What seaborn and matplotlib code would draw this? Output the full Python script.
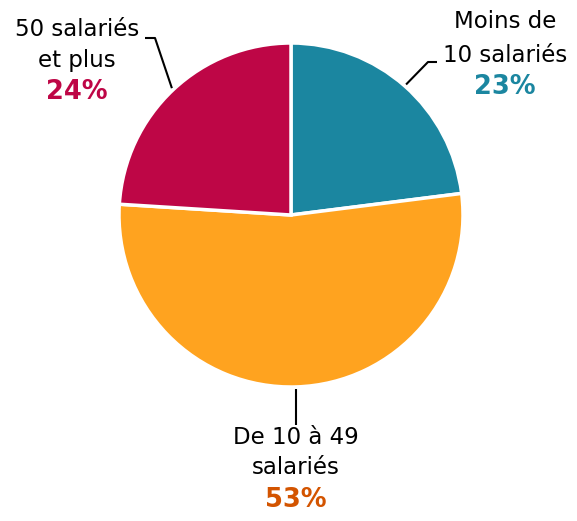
import numpy as np
import matplotlib
matplotlib.use("Agg")
import matplotlib.pyplot as plt
import seaborn as sns

# Data
categories = ["Moins de\n10 salariés", "De 10 à 49\nsalariés", "50 salariés\net plus"]
shares = [23, 53, 24]
wedge_colors = ["#1B86A0", "#FFA31F", "#BE0646"]
pct_colors = ["#1B86A0", "#D35400", "#BE0646"]

sns.set_theme(style="white")
plt.rcParams['font.family'] = ['DejaVu Sans']

W, H = 577, 521
fig = plt.figure(figsize=(W / 100, H / 100), dpi=100)
ax = fig.add_axes([0, 0, 1, 1])

cx, cy, r = 291, H - 215, 172
wedges, _ = ax.pie(shares, colors=wedge_colors, startangle=90, counterclock=False,
                   center=(cx, cy), radius=r,
                   wedgeprops=dict(edgecolor="white", linewidth=2.5))

ax.set_xlim(0, W)
ax.set_ylim(0, H)
ax.set_aspect("equal")
ax.axis("off")

# label placement (pixel coords from top) : elbow, end of leader, text centre
layout = [
    dict(elbow=(428, 62), end=(437, 62), tx=505, ty=[22, 56, 87]),
    dict(elbow=(None, 425), end=None, tx=296, ty=[437, 468, 500]),
    dict(elbow=(155, 38), end=(145, 38), tx=77, ty=[29, 60, 92]),
]

for w, cat, val, col, lay in zip(wedges, categories, shares, pct_colors, layout):
    mid = np.deg2rad((w.theta1 + w.theta2) / 2)
    x0 = cx + (r + 2) * np.cos(mid)
    y0 = cy + (r + 2) * np.sin(mid)
    ex, ey = lay["elbow"]
    if ex is None:
        ex = x0
    xs, ys = [x0, ex], [y0, H - ey]
    if lay["end"] is not None:
        xs.append(lay["end"][0])
        ys.append(H - lay["end"][1])
    ax.plot(xs, ys, color="black", lw=1.5, solid_capstyle="butt")
    lines = cat.split("\n")
    for line, ty in zip(lines, lay["ty"][:2]):
        ax.text(lay["tx"], H - ty, line, ha="center", va="center",
                fontsize=16.5, color="black")
    ax.text(lay["tx"], H - lay["ty"][2], f"{val}%", ha="center", va="center",
            fontsize=18.5, fontweight="bold", color=col)

fig.savefig("out.png", dpi=100)
